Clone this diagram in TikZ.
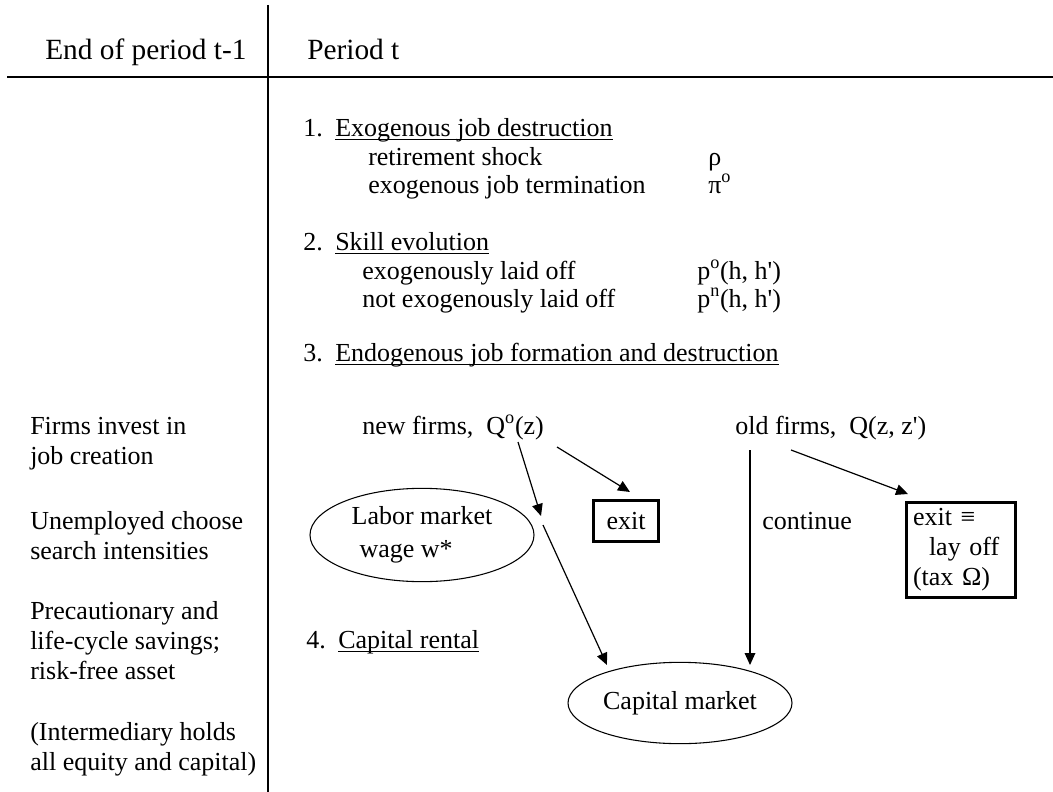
\documentclass[tikz,border=0pt]{standalone}
\usepackage{fontspec}
\setmainfont{Liberation Serif}
\usetikzlibrary{arrows.meta,shapes.geometric}
\newcommand\myul[1]{\setbox0\hbox{#1}\rlap{\rule[-3.2pt]{\wd0}{1.2pt}}\box0}
\newcommand\sq{\textquotesingle}
\begin{document}
\begin{tikzpicture}[x=0.75pt,y=-0.75pt,
  bodyfont/.style={font=\fontsize{19.5pt}{22.5pt}\selectfont},
  txt/.style={bodyfont, inner sep=0pt, anchor=base west, align=left},
  hdr/.style={inner sep=0pt, anchor=base west, font=\fontsize{22pt}{26pt}\selectfont},
  rulel/.style={line width=2.2pt},
  ell/.style={draw, ellipse, line width=0.8pt, inner sep=0pt, bodyfont, align=left},
  bx/.style={draw, line width=2.3pt, inner sep=0pt, bodyfont, align=left},
  arr/.style={-{Triangle[length=9pt,width=8pt]}, line width=0.9pt}]
\useasboundingbox (0,0) rectangle (1053,792);

% rules
\draw[rulel] (268,5) -- (268,792);
\draw[rulel] (7,77) -- (1053,77);

% headers
\node[hdr] (hleft) at (45,60) {End of period t-1};
\node[hdr] (hright) at (307,60) {Period t};

% item 1
\node[txt] (i1) at (303,136) {\makebox[24pt][l]{1.}\myul{Exogenous job destruction}};
\node[txt] (i1a) at (368,165) {retirement shock};
\node[txt] (i1av) at (708,165) {ρ};
\node[txt] (i1b) at (368,193) {exogenous job termination};
\node[txt] (i1bv) at (708,193) {π\textsuperscript{o}};

% item 2
\node[txt] (i2) at (303,250) {\makebox[24pt][l]{2.}\myul{Skill evolution}};
\node[txt] (i2a) at (362,279) {exogenously laid off};
\node[txt] (i2av) at (697,279) {p\textsuperscript{o}(h, h\sq)};
\node[txt] (i2b) at (362,307) {not exogenously laid off};
\node[txt] (i2bv) at (697,307) {p\textsuperscript{n}(h, h\sq)};

% item 3
\node[txt] (i3) at (303,361) {\makebox[24pt][l]{3.}\myul{Endogenous job formation and destruction}};
\node[txt] (newf) at (362,434) {new firms,\ \ Q\textsuperscript{o}(z)};
\node[txt] (oldf) at (735,434) {old firms,\ \ Q(z, z\sq)};

\node[ell, minimum width=168pt, minimum height=70pt] (labor) at (422,535)
  {Labor market\\[2pt]\hspace{6pt}wage w*};
\node[bx, minimum width=49pt, minimum height=30.5pt] (exitn) at (626,521) {exit};
\node[txt] (cont) at (762,529) {continue};
\node[bx, text width=72pt, inner xsep=5pt, minimum height=71pt] (exito) at (961,550)
  {exit ≡\\\hspace{12pt}lay off\\(tax Ω)};

% item 4
\node[txt] (i4) at (306,648) {\makebox[24pt][l]{4.}\myul{Capital rental}};
\node[ell, minimum width=168pt, minimum height=61pt] (capital) at (680,703) {Capital market};

% left column (base anchor = last line baseline)
\node[txt] (l1) at (30,464) {Firms invest in\\job creation};
\node[txt] (l2) at (30,559) {Unemployed choose\\search intensities};
\node[txt] (l3) at (30,679) {Precautionary and\\life-cycle savings;\\risk-free asset};
\node[txt] (l4) at (30,770) {(Intermediary holds\\all equity and capital)};

% arrows
\coordinate (a1s) at (518,442);
\coordinate (a1e) at (541,516);
\coordinate (a2s) at (543,525);
\coordinate (a2e) at (607,665);
\coordinate (a3s) at (557,447);
\coordinate (a3e) at (630,492);
\coordinate (a4s) at (750,450);
\coordinate (a4e) at (750,665);
\coordinate (a5s) at (791,450);
\coordinate (a5e) at (908,494);
\draw[arr] (a1s) -- (a1e);
\draw[arr] (a2s) -- (a2e);
\draw[arr] (a3s) -- (a3e);
\draw[arr] (a4s) -- (a4e);
\draw[arr] (a5s) -- (a5e);
\end{tikzpicture}
\end{document}
